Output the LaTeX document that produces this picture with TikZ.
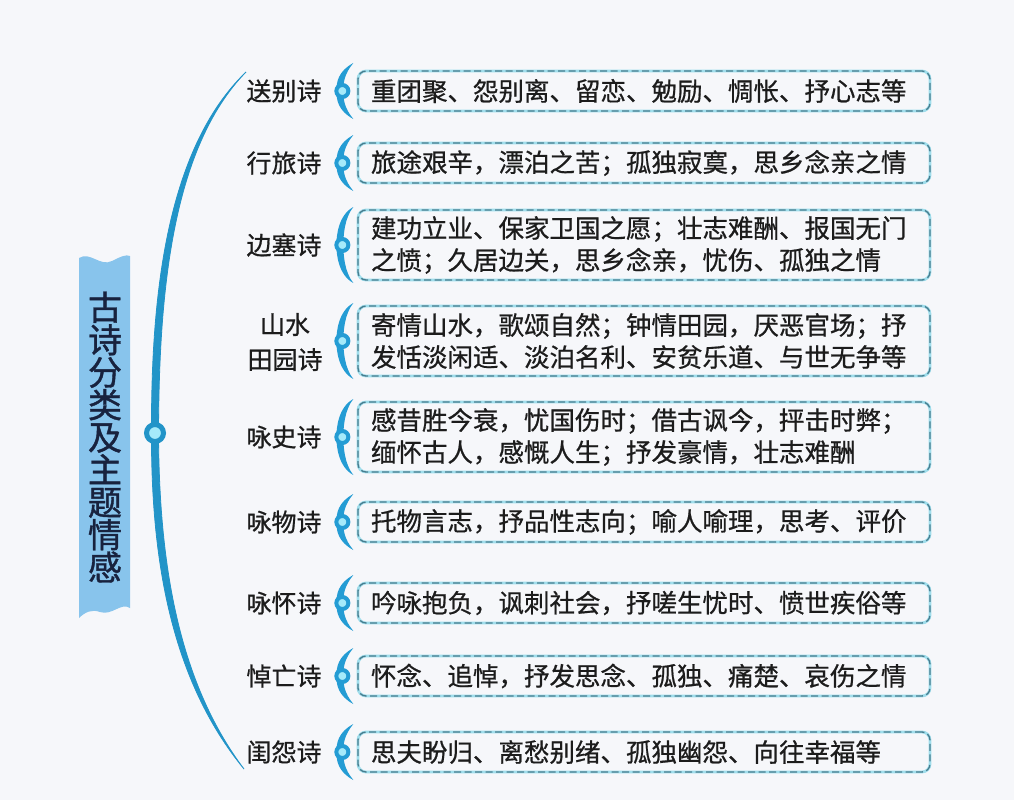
\documentclass[tikz,border=0pt]{standalone}
\usepackage{fontspec}
\newfontfamily\cjk[FakeBold=0.7]{Noto Sans CJK SC}
\newfontfamily\cjkbig[FakeBold=1.2]{Noto Sans CJK SC}
\usetikzlibrary{positioning}
\definecolor{bg}{RGB}{246,247,250}
\definecolor{trunkc}{RGB}{34,148,200}
\definecolor{bracec}{RGB}{36,156,212}
\definecolor{dotfill}{RGB}{165,234,250}
\definecolor{dashc}{RGB}{72,124,142}
\definecolor{halo}{RGB}{160,222,236}
\definecolor{bannerc}{RGB}{136,196,236}
\definecolor{titlec}{RGB}{24,34,62}
\definecolor{txt}{RGB}{28,28,28}
\tikzset{
    kind/.style = {align=center, text=txt, inner sep=0pt, font=\cjk\fontsize{25}{35}\selectfont},
    theme/.style = {rectangle, rounded corners=8pt, minimum width=572pt, minimum height=40pt, text width=546pt, inner xsep=13pt, inner ysep=2pt, align=left, text=txt, font=\cjk\fontsize{25.5}{32}\selectfont, draw=dashc, line width=1.3pt, dash pattern=on 7pt off 3.5pt, preaction={draw=halo, line width=2.8pt, solid}},
    themetall/.style = {theme, minimum height=70pt},
    dot/.style = {circle, draw=bracec, line width=4pt, fill=dotfill, minimum size=12pt, inner sep=0pt},
    rootdot/.style = {circle, draw=trunkc, line width=5pt, fill=dotfill, minimum size=17pt, inner sep=0pt},
    title/.style = {align=center, text=titlec, inner sep=0pt, font=\cjkbig\fontsize{34}{32.5}\selectfont},
    pics/brace/.style = {code={
        \fill[bracec] (17,-#1) .. controls (2,-#1+8) and (0,-9) .. (0,0) .. controls (0,9) and (2,#1-8) .. (17,#1)
            .. controls (8,#1-11) and (7,9) .. (7,0) .. controls (7,-9) and (8,-#1+11) .. (17,-#1) -- cycle;
    }}
}
\begin{document}
\begin{tikzpicture}[x=1pt,y=-1pt]
\fill[bg] (0,0) rectangle (1014,800);
\useasboundingbox (0,0) rectangle (1014,800);
%
% banner
\fill[bannerc] (79,258) .. controls (90,251) and (100,267) .. (112,261) .. controls (120,257) and (126,254) .. (130,256)
    -- (130,608) .. controls (121,602) and (112,616) .. (100,612) .. controls (92,609) and (85,612) .. (79,618) -- cycle;
\node[title] at (105,437) (topic) {古\\诗\\分\\类\\及\\主\\题\\情\\感};
%
% trunk
\coordinate (top) at (246,72);
\coordinate (mid) at (155,433);
\coordinate (bot) at (244,769);
\filldraw[trunkc, line width=0.8pt] (top) .. controls (165,150) and (151,300) .. ([xshift=-3.5pt]mid)
    .. controls (151,560) and (171,680) .. (bot)
    .. controls (177,680) and (159,560) .. ([xshift=3.5pt]mid)
    .. controls (159,300) and (170,150) .. (top) -- cycle;
\node[rootdot] at (mid) (root) {};
%
% kinds
\node[kind] at (284,91) (sb) {送别诗};
\node[kind] at (284,163) (xl) {行旅诗};
\node[kind] at (284,245) (bs) {边塞诗};
\node[kind] at (285,342) (ss) {山水\\田园诗};
\node[kind] at (284,437) (ys) {咏史诗};
\node[kind] at (284,522) (yw) {咏物诗};
\node[kind] at (284,603) (yh) {咏怀诗};
\node[kind] at (284,676) (dw) {悼亡诗};
\node[kind] at (284,752) (gy) {闺怨诗};
%
% themes
\node[theme] at (644,91) (sbt) {重团聚、怨别离、留恋、勉励、惆怅、抒心志等};
\node[theme] at (644,163) (xlt) {旅途艰辛，漂泊之苦；孤独寂寞，思乡念亲之情};
\node[themetall] at (644,245) (bst) {建功立业、保家卫国之愿；壮志难酬、报国无门\\之愤；久居边关，思乡念亲，忧伤、孤独之情};
\node[themetall] at (644,341) (sst) {寄情山水，歌颂自然；钟情田园，厌恶官场；抒\\发恬淡闲适、淡泊名利、安贫乐道、与世无争等};
\node[themetall] at (644,437) (yst) {感昔胜今衰，忧国伤时；借古讽今，抨击时弊；\\缅怀古人，感慨人生；抒发豪情，壮志难酬};
\node[theme] at (644,522) (ywt) {托物言志，抒品性志向；喻人喻理，思考、评价};
\node[theme] at (644,603) (yht) {吟咏抱负，讽刺社会，抒嗟生忧时、愤世疾俗等};
\node[theme] at (644,676) (dwt) {怀念、追悼，抒发思念、孤独、痛楚、哀伤之情};
\node[theme] at (644,752) (gyt) {思夫盼归、离愁别绪、孤独幽怨、向往幸福等};
%
% braces
\pic at ([xshift=-21pt]sbt.west) {brace=28};
\pic at ([xshift=-21pt]xlt.west) {brace=28};
\pic at ([xshift=-21pt]bst.west) {brace=38};
\pic at ([xshift=-21pt]sst.west) {brace=38};
\pic at ([xshift=-21pt]yst.west) {brace=38};
\pic at ([xshift=-21pt]ywt.west) {brace=28};
\pic at ([xshift=-21pt]yht.west) {brace=28};
\pic at ([xshift=-21pt]dwt.west) {brace=28};
\pic at ([xshift=-21pt]gyt.west) {brace=28};
%
\node[dot] at ([xshift=-15pt]sbt.west) (sbd) {};
\node[dot] at ([xshift=-15pt]xlt.west) (xld) {};
\node[dot] at ([xshift=-15pt]bst.west) (bsd) {};
\node[dot] at ([xshift=-15pt]sst.west) (ssd) {};
\node[dot] at ([xshift=-15pt]yst.west) (ysd) {};
\node[dot] at ([xshift=-15pt]ywt.west) (ywd) {};
\node[dot] at ([xshift=-15pt]yht.west) (yhd) {};
\node[dot] at ([xshift=-15pt]dwt.west) (dwd) {};
\node[dot] at ([xshift=-15pt]gyt.west) (gyd) {};

\end{tikzpicture}
\end{document}
